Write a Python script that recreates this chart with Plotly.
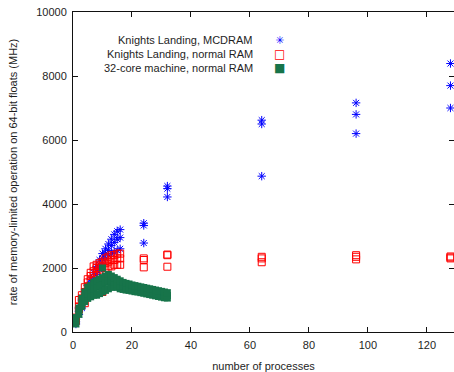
import plotly.graph_objects as go

# ---- data ----
mcdram_x = [1, 1, 1, 2, 2, 2, 3, 3, 3, 4, 4, 4, 5, 5, 5, 6, 6, 6, 7, 7, 7, 8, 8, 8,
            9, 9, 9, 10, 10, 10, 11, 11, 11, 12, 12, 12, 13, 13, 13, 14, 14, 14,
            15, 15, 15, 16, 16, 16, 24, 24, 24, 32, 32, 32, 64, 64, 64,
            96, 96, 96, 128, 128, 128]
mcdram_y = [250, 320, 400, 550, 650, 750, 750, 850, 1000, 950, 1100, 1250,
            1250, 1350, 1450, 1450, 1550, 1650, 1600, 1700, 1850, 1800, 1950, 2050,
            1950, 2100, 2250, 2150, 2300, 2450, 2300, 2450, 2600, 2400, 2550, 2750,
            2450, 2700, 2900, 2500, 2800, 3050, 2550, 2900, 3150, 2600, 2950, 3200,
            2780, 3330, 3400, 4220, 4480, 4560, 4870, 6500, 6620,
            6200, 6800, 7160, 7000, 7700, 8390]

normal_x = [1, 1, 1, 2, 2, 2, 3, 3, 3, 4, 4, 4, 5, 5, 5, 6, 6, 6, 7, 7, 7, 8, 8, 8,
            9, 9, 9, 10, 10, 10, 11, 11, 11, 12, 12, 12, 13, 13, 13, 14, 14, 14,
            15, 15, 15, 16, 16, 16, 24, 24, 24, 32, 32, 32, 64, 64, 64,
            96, 96, 96, 128, 128, 128]
normal_y = [350, 400, 450, 700, 800, 1000, 950, 1050, 1150, 900, 1250, 1400,
            1400, 1550, 1650, 1600, 1750, 1850, 1750, 1900, 2050, 1850, 2000, 2100,
            1950, 2050, 2150, 1250, 2050, 2200, 2000, 2150, 2300, 2050, 2200, 2350,
            2050, 2250, 2400, 2100, 2250, 2400, 2100, 2300, 2450, 2100, 2300, 2450,
            2020, 2250, 2300, 2040, 2400, 2420, 2180, 2300, 2350,
            2270, 2350, 2400, 2300, 2330, 2360]

core32_x = [1, 1, 1, 2, 2, 2, 3, 3, 3, 4, 4, 4, 5, 5, 5, 6, 6, 6, 7, 7, 7, 8, 8, 8,
            9, 9, 9, 10, 10, 10, 10, 11, 11, 11, 12, 12, 12, 13, 13, 13, 14, 14, 14,
            15, 15, 15, 16, 16, 16, 17, 17, 17, 18, 18, 18, 19, 19, 19, 20, 20, 20,
            21, 21, 21, 22, 22, 22, 23, 23, 23, 24, 24, 24, 25, 25, 25, 26, 26, 26,
            27, 27, 27, 28, 28, 28, 29, 29, 29, 30, 30, 30, 31, 31, 31, 32, 32, 32]
core32_y = [250, 350, 450, 550, 650, 750, 800, 900, 1050, 950, 1100, 1250,
            1050, 1200, 1400, 1100, 1300, 1450, 1150, 1350, 1550, 1150, 1400, 1600,
            1200, 1450, 1650, 1250, 1500, 1700, 2000, 1300, 1550, 1750,
            1350, 1600, 1800, 1400, 1600, 1750, 1400, 1550, 1700,
            1400, 1500, 1650, 1350, 1450, 1600, 1330, 1430, 1550, 1310, 1400, 1520,
            1300, 1380, 1500, 1280, 1360, 1470, 1260, 1340, 1450, 1250, 1320, 1430,
            1230, 1300, 1410, 1210, 1280, 1390, 1190, 1260, 1370, 1170, 1240, 1350,
            1150, 1220, 1330, 1130, 1200, 1310, 1110, 1180, 1290, 1090, 1160, 1270,
            1070, 1150, 1250, 1060, 1140, 1230]

series_names = ["Knights Landing, MCDRAM", "Knights Landing, normal RAM",
                "32-core machine, normal RAM"]
x_ticks = [0, 20, 40, 60, 80, 100, 120]
y_ticks = [0, 2000, 4000, 6000, 8000, 10000]
y_tick_text = ["0", "2000", "4000", "6000", "8000", "10000"]

BLUE = "#0000ff"
RED = "#ff0000"
GREEN = "#17744a"
TXT = "#1e1e1e"
FONT = "Liberation Sans, Arial, sans-serif"

fig = go.Figure()
fig.add_trace(go.Scatter(x=mcdram_x, y=mcdram_y, mode="markers", name=series_names[0],
                         marker=dict(symbol="asterisk-open", size=7, color=BLUE,
                                     line=dict(color=BLUE, width=1))))
fig.add_trace(go.Scatter(x=normal_x, y=normal_y, mode="markers", name=series_names[1],
                         marker=dict(symbol="square-open", size=7, color=RED,
                                     line=dict(color=RED, width=1))))
fig.add_trace(go.Scatter(x=core32_x, y=core32_y, mode="markers", name=series_names[2],
                         marker=dict(symbol="square", size=7, color=GREEN,
                                     line=dict(width=0))))

# legend drawn as text (labels right-aligned, key glyph to the right)
leg_rows = [0.912, 0.870, 0.826]
leg_keys = [("✳", BLUE, 11), ("□", RED, 12), ("■", GREEN, 12)]
for name, yy, (glyph, col, sz) in zip(series_names, leg_rows, leg_keys):
    fig.add_annotation(xref="paper", yref="paper", x=0.478, y=yy, text=name,
                       showarrow=False, xanchor="right", yanchor="middle",
                       font=dict(family=FONT, size=11, color=TXT))
    fig.add_annotation(xref="paper", yref="paper", x=0.541, y=yy, text=glyph,
                       showarrow=False, xanchor="center", yanchor="middle",
                       font=dict(family="DejaVu Sans", size=sz, color=col))

axis_common = dict(showgrid=False, zeroline=False, showline=True, linecolor="#111",
                   linewidth=1, mirror="ticks", ticks="inside", ticklen=5,
                   tickcolor="#111", tickwidth=1,
                   tickfont=dict(family=FONT, size=11, color=TXT))

fig.update_layout(
    width=454, height=372,
    margin=dict(l=73, r=0, t=12, b=40, autoexpand=False),
    paper_bgcolor="white", plot_bgcolor="white",
    showlegend=False,
    xaxis=dict(range=[0, 129.2], tickvals=x_ticks, ticklabelstandoff=3,
               title=dict(text="number of processes", standoff=13,
                          font=dict(family=FONT, size=11, color=TXT)),
               **axis_common),
    yaxis=dict(range=[0, 10000], tickvals=y_ticks, ticktext=y_tick_text,
               ticklabelstandoff=3,
               title=dict(text="rate of memory-limited operation on 64-bit floats (MHz)",
                          standoff=16, font=dict(family=FONT, size=11, color=TXT)),
               **axis_common),
)

# remove the page's default body margin so the figure fills the window exactly
fig.write_html("out.html",
               config={"displayModeBar": False},
               post_script="document.body.style.margin='0';"
                           "document.body.style.overflow='hidden';")
